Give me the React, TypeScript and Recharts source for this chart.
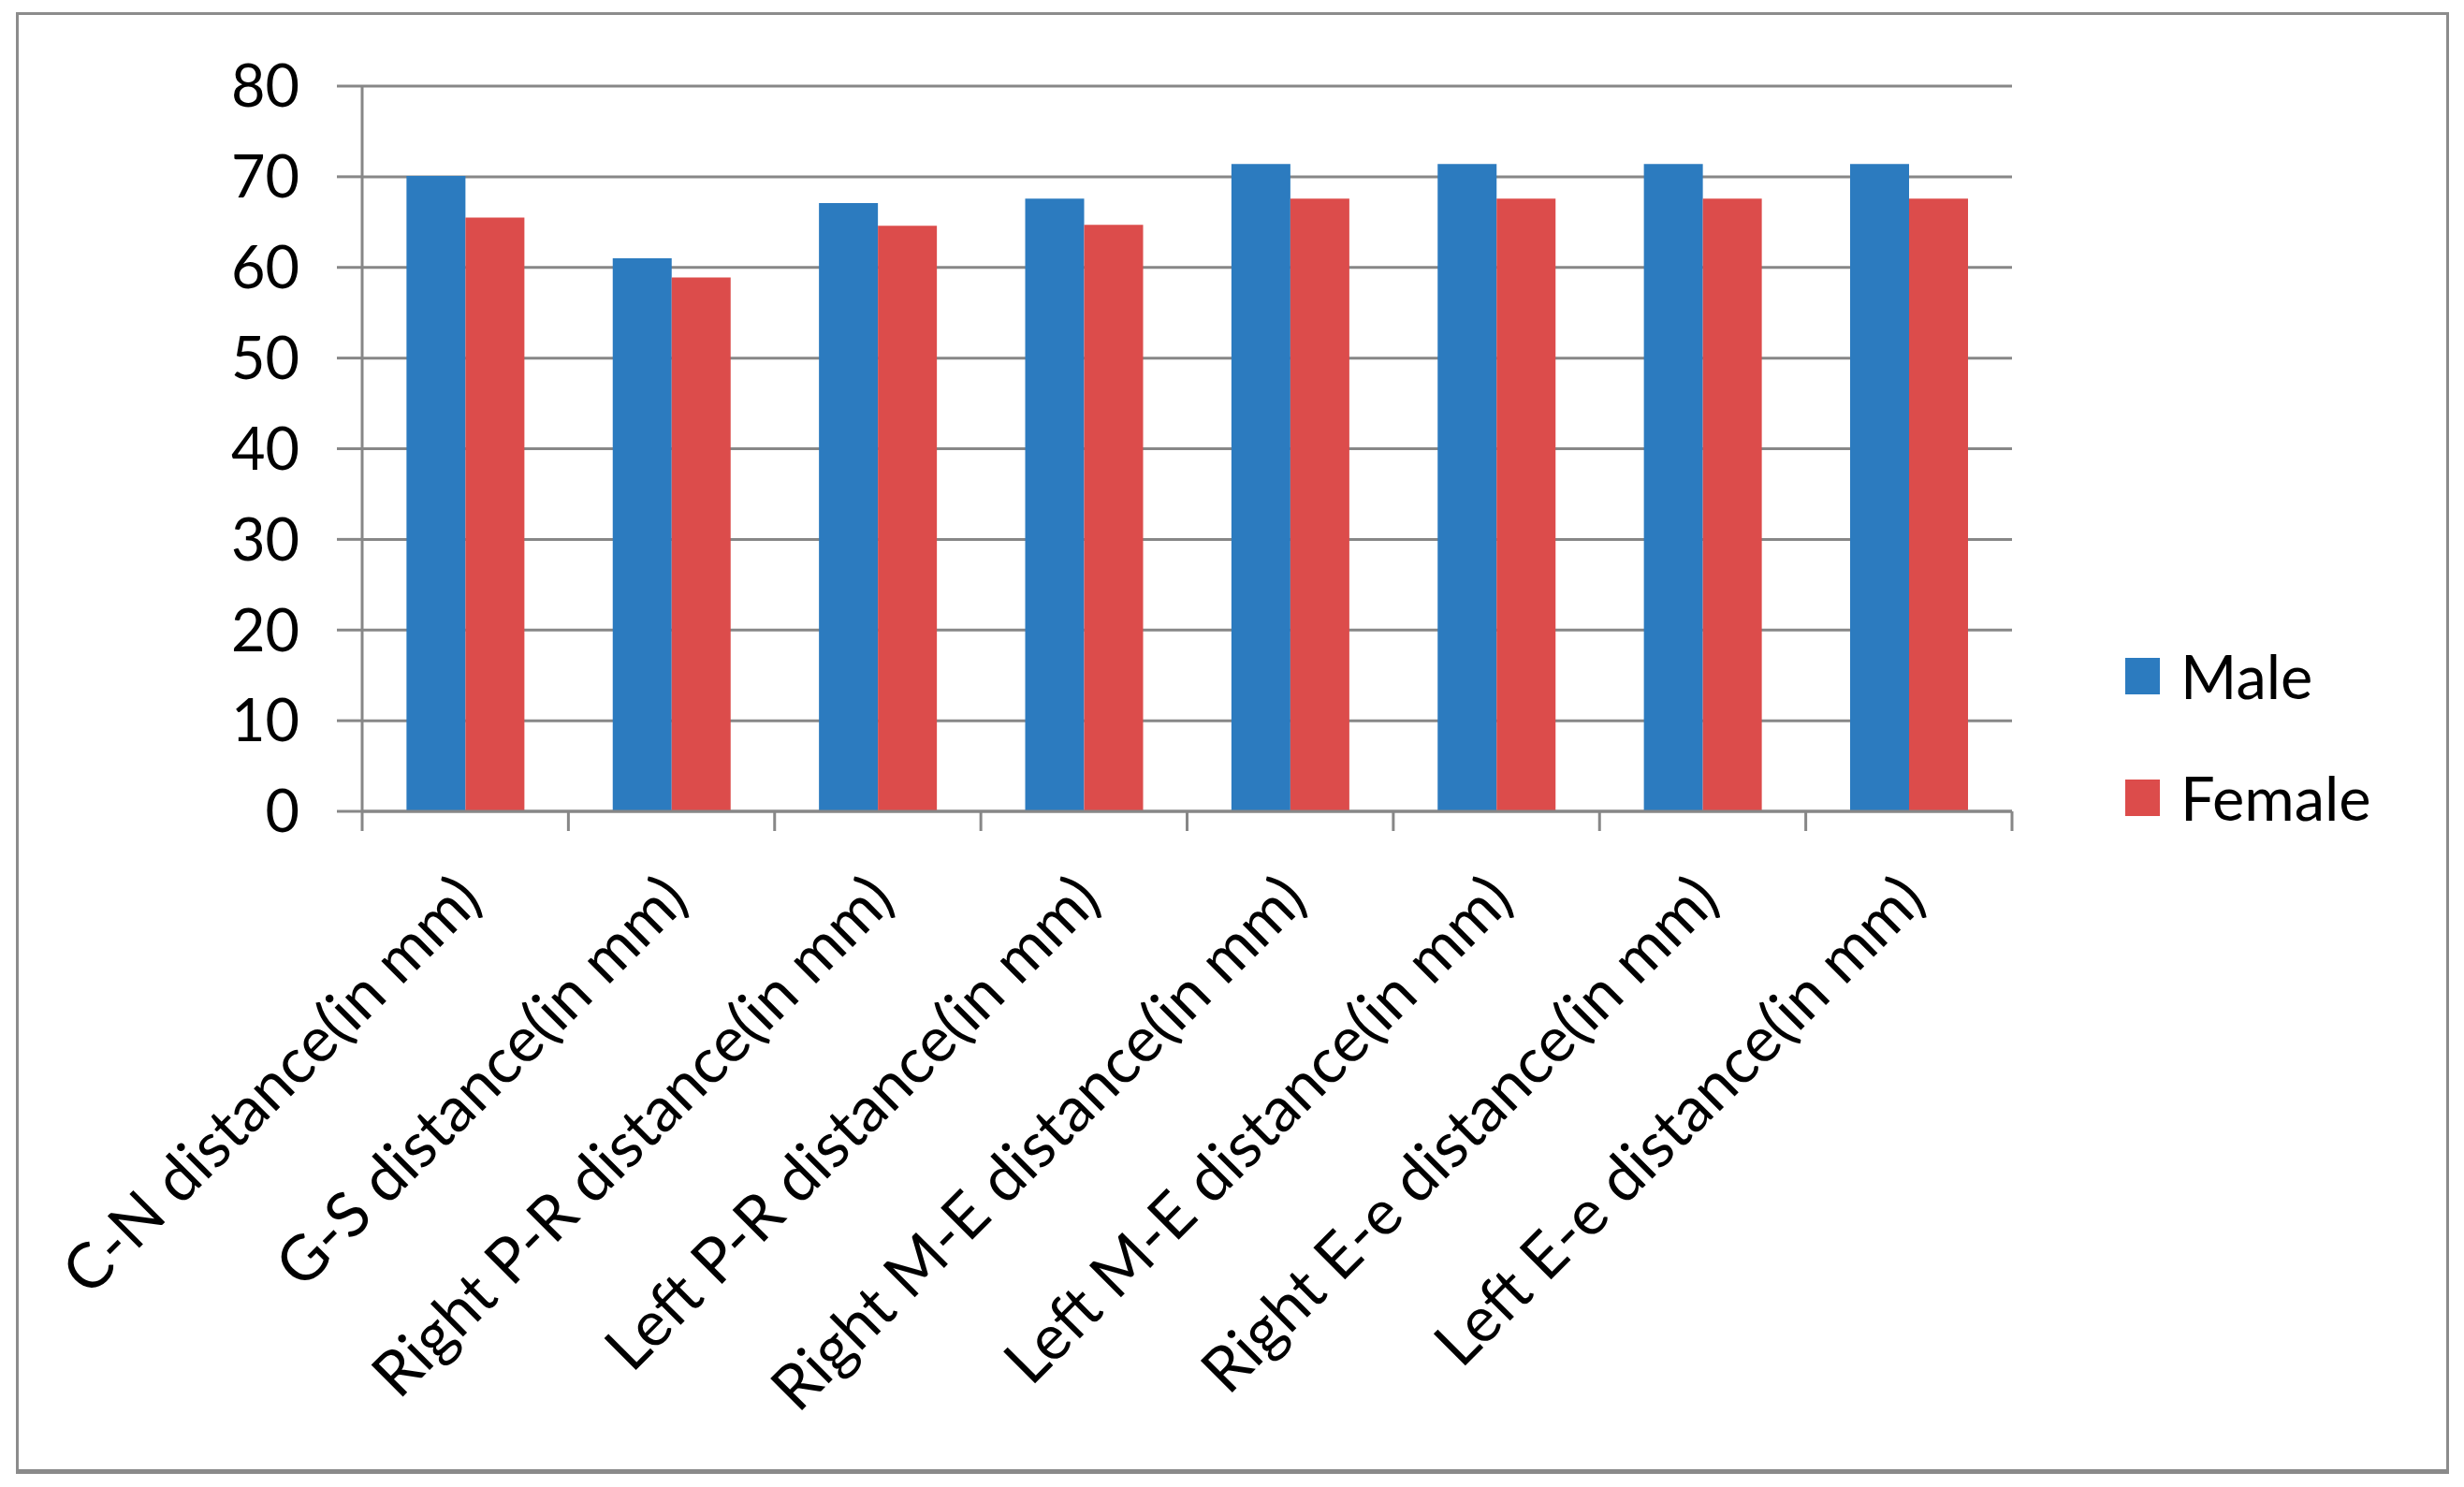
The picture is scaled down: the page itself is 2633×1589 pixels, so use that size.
import React from "react";
import { BarChart, Bar, XAxis, YAxis, CartesianGrid, Legend } from "recharts";

const categories = [
  "C-N distance(in mm)",
  "G-S distance(in mm)",
  "Right P-R distance(in mm)",
  "Left P-R distance(in mm)",
  "Right M-E distance(in mm)",
  "Left M-E distance(in mm)",
  "Right E-e distance(in mm)",
  "Left E-e distance(in mm)",
];
const maleValues = [70.1, 61.0, 67.1, 67.6, 71.4, 71.4, 71.4, 71.4];
const femaleValues = [65.5, 58.9, 64.6, 64.7, 67.6, 67.6, 67.6, 67.6];
const yTicks = [0, 10, 20, 30, 40, 50, 60, 70, 80];
const seriesNames = ["Male", "Female"];
const seriesColors = ["#2C7BBF", "#DC4C4B"];

const data = categories.map((c, i) => ({
  name: c,
  Male: maleValues[i],
  Female: femaleValues[i],
}));

const W = 2633;
const H = 1589;
const PLOT_LEFT = 387;
const PLOT_RIGHT = 2150;
const PLOT_TOP = 92;
const PLOT_BOTTOM = 867;
const X_AXIS_H = 700;
const FONT = "Lato, 'Open Sans', sans-serif";
const AXIS_COLOR = "#878787";
const BAND = (PLOT_RIGHT - PLOT_LEFT) / categories.length;

const XTick = (props: any) => {
  const { x, y, payload, index } = props;
  const left = x - BAND / 2;
  const right = x + BAND / 2;
  const ax = x + 4;
  const ay = y + 81;
  return (
    <g>
      <line x1={left} y1={y} x2={left} y2={y + 21} stroke={AXIS_COLOR} strokeWidth={3} />
      {index === categories.length - 1 && (
        <line x1={right} y1={y} x2={right} y2={y + 21} stroke={AXIS_COLOR} strokeWidth={3} />
      )}
      <text
        x={ax}
        y={ay}
        dy="0.35em"
        textAnchor="end"
        transform={`rotate(-45, ${ax}, ${ay})`}
        fontFamily={FONT}
        fontSize={67}
        fill="#000"
      >
        {payload.value}
      </text>
    </g>
  );
};

const renderLegend = () => (
  <div style={{ fontFamily: FONT, fontSize: 65, color: "#000" }}>
    {seriesNames.map((n, i) => (
      <div
        key={n}
        style={{ display: "flex", alignItems: "center", height: 130, lineHeight: "130px" }}
      >
        <span
          style={{
            display: "inline-block",
            width: 37,
            height: 39,
            background: seriesColors[i],
            marginRight: 22,
          }}
        />
        <span>{n}</span>
      </div>
    ))}
  </div>
);

export default function App() {
  return (
    <div style={{ position: "absolute", left: 0, top: 0, width: W, height: H, background: "#fff" }}>
      <div
        style={{
          position: "absolute",
          left: 17,
          top: 13,
          width: 2600,
          height: 1562,
          boxSizing: "border-box",
          borderTop: "3px solid #8c8c8c",
          borderLeft: "3px solid #8c8c8c",
          borderRight: "3px solid #8c8c8c",
          borderBottom: "5px solid #8a8a8a",
        }}
      />
      <div style={{ position: "absolute", left: 0, top: 0 }}>
        <BarChart
          width={W}
          height={H}
          data={data}
          margin={{ top: PLOT_TOP, right: W - PLOT_RIGHT, left: 0, bottom: H - PLOT_BOTTOM - X_AXIS_H }}
          barCategoryGap="21.5%"
          barGap={0}
        >
          <CartesianGrid vertical={false} stroke={AXIS_COLOR} strokeWidth={3} />
          <XAxis
            dataKey="name"
            height={X_AXIS_H}
            interval={0}
            tickLine={false}
            tickSize={0}
            tickMargin={0}
            axisLine={{ stroke: AXIS_COLOR, strokeWidth: 3 }}
            tick={<XTick />}
          />
          <YAxis
            width={PLOT_LEFT}
            domain={[0, 80]}
            ticks={yTicks}
            interval={0}
            tickSize={27}
            tickMargin={40}
            axisLine={{ stroke: AXIS_COLOR, strokeWidth: 3 }}
            tickLine={{ stroke: AXIS_COLOR, strokeWidth: 3 }}
            tick={{ fill: "#000", fontSize: 63, fontFamily: FONT }}
          />
          <Legend
            layout="vertical"
            align="center"
            verticalAlign="middle"
            content={renderLegend}
            wrapperStyle={{ left: 2271, top: 657, width: 340 }}
          />
          <Bar dataKey="Male" fill={seriesColors[0]} isAnimationActive={false} />
          <Bar dataKey="Female" fill={seriesColors[1]} isAnimationActive={false} />
        </BarChart>
      </div>
    </div>
  );
}
